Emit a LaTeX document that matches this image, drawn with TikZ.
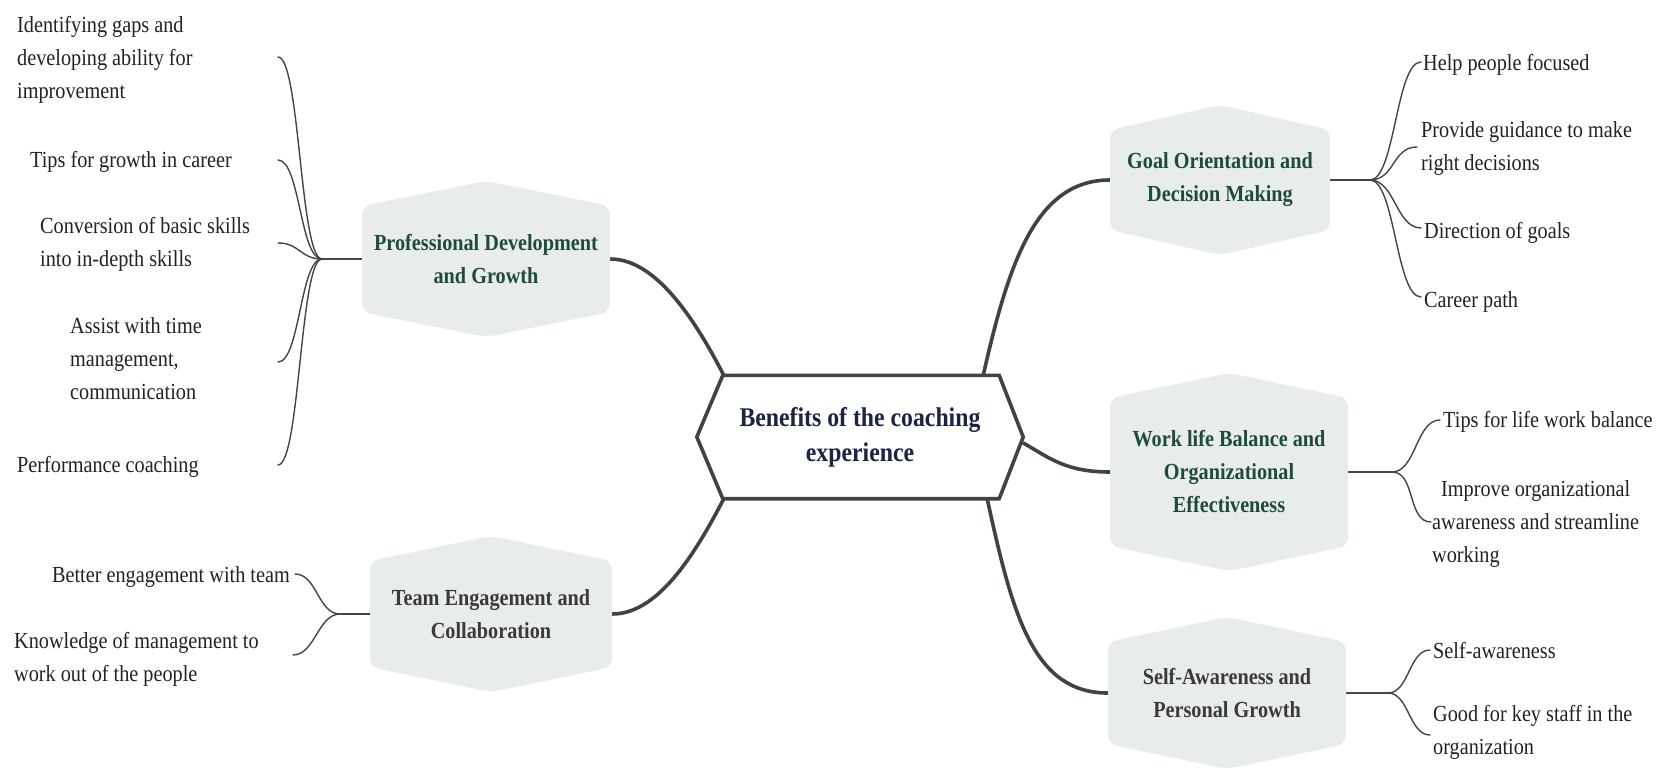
\documentclass[tikz,border=0pt]{standalone}
\usepackage{fontspec}
\setmainfont{Liberation Serif}[FakeStretch=0.88]
\usetikzlibrary{calc}
\pgfdeclarelayer{bg}
\pgfsetlayers{bg,main}
\definecolor{hexfill}{HTML}{E9ECEC}
\definecolor{hexgreen}{HTML}{1F4B3C}
\definecolor{hexgray}{HTML}{3A3A3A}
\definecolor{navy}{HTML}{1B2442}
\definecolor{linegray}{HTML}{3E4343}
\definecolor{leafgray}{HTML}{454545}
\definecolor{leaftext}{HTML}{222222}
\newcommand\branchfont{\fontsize{23}{33}\selectfont\bfseries}
\newcommand\centerfont{\fontsize{27}{35}\selectfont\bfseries}
\newcommand\leaffont{\fontsize{23}{33}\selectfont}
\newcommand\leaflines[1]{\begin{tabular}[t]{@{}l@{}}#1\end{tabular}}
\tikzset{
  branch/.style 2 args={rectangle, inner sep=0pt, minimum width=#1, minimum height=#2,
    align=center, font=\branchfont, text=hexgreen,
    path picture={\fill[hexfill, rounded corners=9pt]
      ($(path picture bounding box.north west)+(0,-25pt)$) --
      (path picture bounding box.north) --
      ($(path picture bounding box.north east)+(0,-25pt)$) --
      ($(path picture bounding box.south east)+(0,25pt)$) --
      (path picture bounding box.south) --
      ($(path picture bounding box.south west)+(0,25pt)$) -- cycle;}},
  centerbox/.style={rectangle, inner sep=0pt, minimum width=326pt, minimum height=123pt,
    align=center, font=\centerfont, text=navy},
  leaf/.style={inner sep=0pt, font=\leaffont, text=leaftext, anchor=base west},
  mainline/.style={line width=3.6pt, draw=linegray, line cap=round},
  hubline/.style={line width=2pt, draw=leafgray},
  leafline/.style={line width=1.4pt, draw=leafgray, line cap=round},
}
\begin{document}
\begin{tikzpicture}[x=1pt, y=-1pt]
\useasboundingbox (0,0) rectangle (1662,771);
\begin{pgfonlayer}{bg}
\fill[white] (0,0) rectangle (1662,771);
\end{pgfonlayer}

% central and branch nodes
\node[centerbox] (c) at (860,437) {Benefits of the coaching\\experience};
\node[branch={248pt}{156pt}] (prof) at (486,259) {Professional Development\\and Growth};
\node[branch={242pt}{156pt}, text=hexgray] (team) at (491,614) {Team Engagement and\\Collaboration};
\node[branch={220pt}{150pt}] (goal) at (1220,180) {Goal Orientation and\\Decision Making};
\node[branch={238pt}{198pt}] (work) at (1229,472) {Work life Balance and\\Organizational\\Effectiveness};
\node[branch={238pt}{152pt}, text=hexgray] (self) at (1227,693) {Self-Awareness and\\Personal Growth};

% leaves
\node[leaf] (l1) at (17,32) {\leaflines{Identifying gaps and\\developing ability for\\improvement}};
\node[leaf] (l2) at (30,167) {Tips for growth in career};
\node[leaf] (l3) at (40,233) {\leaflines{Conversion of basic skills\\into in-depth skills}};
\node[leaf] (l4) at (70,333) {\leaflines{Assist with time\\management,\\communication}};
\node[leaf] (l5) at (17,472) {Performance coaching};

\node[leaf, anchor=base east] (t1) at (290,582) {Better engagement with team};
\node[leaf] (t2) at (14,648) {\leaflines{Knowledge of management to\\work out of the people}};

\node[leaf] (g1) at (1423,70) {Help people focused};
\node[leaf] (g2) at (1421,137) {\leaflines{Provide guidance to make\\right decisions}};
\node[leaf] (g3) at (1424,238) {Direction of goals};
\node[leaf] (g4) at (1424,307) {Career path};

\node[leaf] (w1) at (1443,427) {Tips for life work balance};
\node[leaf] (w2) at (1432,496) {\leaflines{\hspace*{9pt}Improve organizational\\awareness and streamline\\working}};

\node[leaf] (s1) at (1433,658) {Self-awareness};
\node[leaf] (s2) at (1433,721) {\leaflines{Good for key staff in the\\organization}};

% hubs and free ends
\coordinate (ph) at (322,259);
\coordinate (pe1) at (278,57);
\coordinate (pe2) at (278,160);
\coordinate (pe3) at (278,243);
\coordinate (pe4) at (278,362);
\coordinate (pe5) at (278,465);
\coordinate (th) at (340,614);
\coordinate (te1) at (295,574);
\coordinate (te2) at (293,655);
\coordinate (gh) at (1370,180);
\coordinate (ge1) at (1421,62);
\coordinate (ge2) at (1417,147);
\coordinate (ge3) at (1421,228);
\coordinate (ge4) at (1421,297);
\coordinate (wh) at (1392,472);
\coordinate (we1) at (1440,420);
\coordinate (we2) at (1431,522);
\coordinate (sh) at (1388,693);
\coordinate (se1) at (1430,650);
\coordinate (se2) at (1430,735);

\begin{pgfonlayer}{bg}
% main connectors
\draw[mainline] (prof.east) .. controls +(45,0) and +(-30,-58) .. ($(c.north west)+(27pt,0)$);
\draw[mainline] (team.east) .. controls +(45,0) and +(-30,58) .. ($(c.south west)+(27pt,0)$);
\draw[mainline] ($(c.north east)+(-40pt,0)$) .. controls +(25,-110) and +(-75,0) .. (goal.west);
\draw[mainline] ($(c.east)+(0,-6pt)$) .. controls +(25,14) and +(-45,0) .. (work.west);
\draw[mainline] ($(c.south east)+(-36pt,0)$) .. controls +(25,115) and +(-75,0) .. (self.west);
% central hexagon
\draw[line width=3.6pt, draw=linegray, fill=white, line join=miter]
  (c.west) -- ($(c.north west)+(26pt,0)$) -- ($(c.north east)+(-24pt,0)$) -- (c.east)
  -- ($(c.south east)+(-24pt,0)$) -- ($(c.south west)+(26pt,0)$) -- cycle;

% leaf connectors
\draw[hubline] (ph) -- (prof.west);
\foreach \e in {pe1,pe2,pe3,pe4,pe5}
  \draw[leafline] (ph) .. controls +(-22,0) and +(22,0) .. (\e);
\draw[hubline] (th) -- (team.west);
\foreach \e in {te1,te2}
  \draw[leafline] (th) .. controls +(-22,0) and +(22,0) .. (\e);
\draw[hubline] (goal.east) -- (gh);
\foreach \e in {ge1,ge2,ge3,ge4}
  \draw[leafline] (gh) .. controls +(25,0) and +(-25,0) .. (\e);
\draw[hubline] (work.east) -- (wh);
\foreach \e in {we1,we2}
  \draw[leafline] (wh) .. controls +(24,0) and +(-24,0) .. (\e);
\draw[hubline] (self.east) -- (sh);
\foreach \e in {se1,se2}
  \draw[leafline] (sh) .. controls +(21,0) and +(-21,0) .. (\e);
\end{pgfonlayer}
\end{tikzpicture}
\end{document}
